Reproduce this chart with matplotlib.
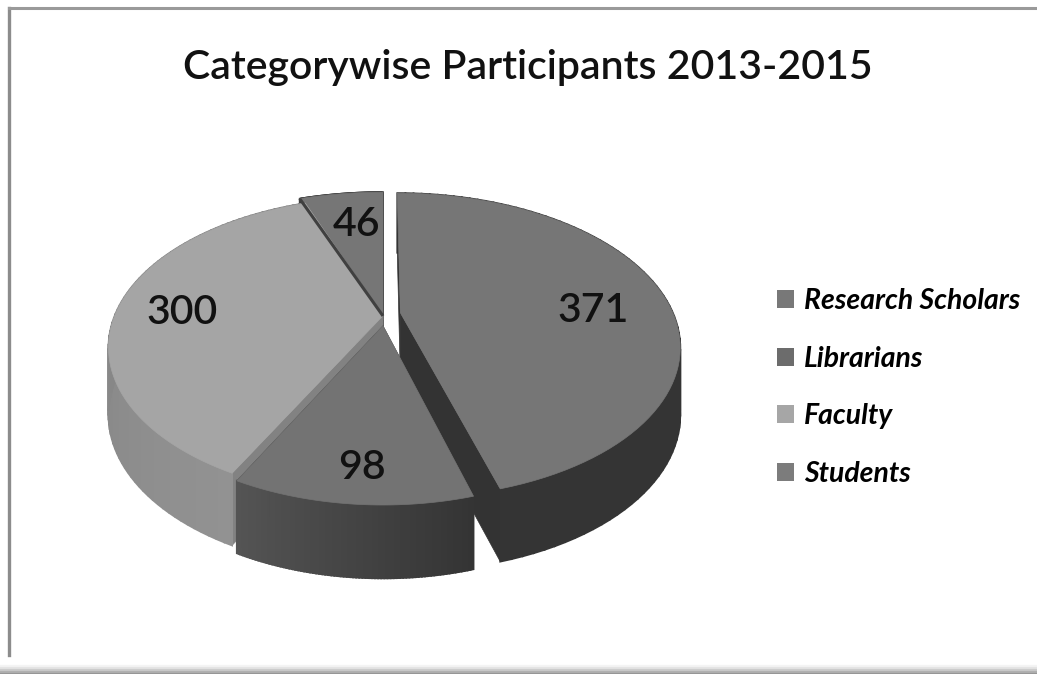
import numpy as np
import matplotlib
matplotlib.use('Agg')
import matplotlib.pyplot as plt
from matplotlib.patches import Polygon, Patch

# data
categories = ['Research Scholars', 'Librarians', 'Faculty', 'Students']
participants = [371, 98, 300, 46]
title_text = 'Categorywise Participants 2013-2015'

# slice styles, same order as categories
top_grey = ['#767676', '#737373', '#a5a5a5', '#767676']
legend_grey = ['#787878', '#6c6c6c', '#a6a6a6', '#7c7c7c']
wall_from = [52, 84, 122, 60]
wall_to = [52, 52, 146, 60]
cut_grey = ['#333333', '#3a3a3a', '#828282', '#3c3c3c']
explode = [(0.065, 0.05), (0.0, -0.04), (0.0, 0.03), (0.0, 0.0)]
slice_r = [1.02, 0.96, 1.0, 1.08]
label_r = [0.72, 0.76, 0.75, 0.74]
label_nudge = [(7, 12), (3, 8), (-2, 3), (4, -4)]

# pie plane -> picture, back of the pie is foreshortened
cx, cy = 383, 320
rx, ry = 270, 145.6
k = 0.213
depth = 66


def project(u, v):
    w = 1 + k * v
    return cx + rx * u / w, cy - ry * v / w


def slice_edge(a0, a1, r, off, n=80):
    t = np.radians(np.linspace(a0, a1, n))
    return r * np.sin(t) + off[0], r * np.cos(t) + off[1]


def drop(v):
    return depth / (1 + 0.1 * v)


fig = plt.figure(figsize=(10.37, 6.74), dpi=100)
ax = fig.add_axes([0, 0, 1, 1])
ax.set_xlim(0, 1037)
ax.set_ylim(674, 0)
ax.axis('off')

plt.rcParams['font.family'] = ['Lato', 'DejaVu Sans']

# outer frame
ax.plot([9, 9], [8, 655], color='#8c8c8c', lw=2.4)
ax.plot([9, 1036], [8, 8], color='#9a9a9a', lw=2.2)
for y, g in zip([666, 668, 670, 672, 674], ['#f4f4f4', '#e4e4e4', '#cccccc', '#b0b0b0', '#969696']):
    ax.plot([0, 1037], [y, y], color=g, lw=1.6)

shares = np.array(participants) / sum(participants) * 360
ends = np.cumsum(shares)
starts = ends - shares

# back slices first, the two exploded front ones last
for i in [3, 2, 0, 1]:
    off = explode[i]
    us, vs = slice_edge(starts[i], ends[i], slice_r[i], off)
    xs, ys = project(us, vs)
    ax0, ay0 = project(off[0], off[1])
    d = drop(vs)
    d0 = drop(off[1])

    # the two cut faces
    for j in [0, -1]:
        ax.add_patch(Polygon([(ax0, ay0), (xs[j], ys[j]), (xs[j], ys[j] + d[j]), (ax0, ay0 + d0)],
                             closed=True, fc=cut_grey[i], ec=cut_grey[i], lw=0.5))

    # outer wall as small strips so the shade can change along it
    for j in range(len(xs) - 1):
        f = j / (len(xs) - 2)
        g = (wall_to[i] * (1 - f) + wall_from[i] * f) / 255
        ax.add_patch(Polygon([(xs[j], ys[j]), (xs[j + 1], ys[j + 1]),
                              (xs[j + 1], ys[j + 1] + d[j + 1]), (xs[j], ys[j] + d[j])],
                             closed=True, fc=(g, g, g), ec=(g, g, g), lw=1.3))

    # top face
    ax.add_patch(Polygon(np.vstack([[ax0, ay0], np.column_stack([xs, ys])]),
                         closed=True, fc=top_grey[i], ec=top_grey[i], lw=0.5))

# dark edge where students meets faculty
eu, ev = slice_edge(starts[3], starts[3], slice_r[3], explode[3], 1)
ex, ey = project(eu[0], ev[0])
ax.plot([cx, ex], [cy - 4, ey], color='#404040', lw=2.2, solid_capstyle='butt')

# value labels
for i, val in enumerate(participants):
    mid = np.radians((starts[i] + ends[i]) / 2)
    lx, ly = project(np.sin(mid) * label_r[i] + explode[i][0], np.cos(mid) * label_r[i] + explode[i][1])
    ax.text(lx + label_nudge[i][0], ly + label_nudge[i][1], str(val), fontsize=29.5, weight='semibold',
            color='#111111', ha='center', va='center')

ax.text(528, 67, title_text, fontsize=29.5, weight='semibold', color='#111111', ha='center', va='center')

handles = [Patch(fc=c, ec='none') for c in legend_grey]
ax.legend(handles, categories, loc='upper left', bbox_to_anchor=(777 / 1037, 1 - 288 / 674),
          frameon=False, handlelength=0.6, handleheight=0.6, handletextpad=0.36, labelspacing=1.12,
          borderaxespad=0, borderpad=0,
          prop={'family': 'Lato', 'style': 'italic', 'weight': 'bold', 'size': 20.4})

fig.savefig('out.png', dpi=100)
